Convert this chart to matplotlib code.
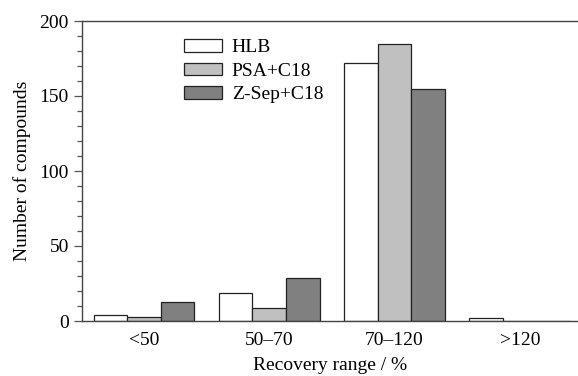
import matplotlib.pyplot as plt
from matplotlib.ticker import MultipleLocator
import numpy as np

plt.rcParams['font.family'] = ['Liberation Serif', 'DejaVu Serif']

# data
categories = ['<50', '50\u201370', '70\u2013120', '>120']
hlb = [4, 19, 172, 2]
psa_c18 = [3, 9, 185, 0]
zsep_c18 = [13, 29, 155, 0]
series_names = ['HLB', 'PSA+C18', 'Z-Sep+C18']

fig = plt.figure(figsize=(5.78, 3.76), dpi=100)
ax = fig.add_axes([82 / 578, 1 - 321 / 376, 1 - 82 / 578, 300 / 376])

x = np.arange(len(categories))
w = 0.268
colors = ['white', '#c0c0c0', '#808080']
for i, (vals, name) in enumerate(zip([hlb, psa_c18, zsep_c18], series_names)):
    ax.bar(x + (i - 1) * w, vals, w, color=colors[i], edgecolor='#222222',
           linewidth=0.9, label=name)

ax.set_xlim(-0.495, 3.465)
ax.set_ylim(0, 200)
ax.set_xticks(x)
ax.set_xticklabels(categories, fontsize=14)
ax.yaxis.set_major_locator(MultipleLocator(50))
ax.yaxis.set_minor_locator(MultipleLocator(10))
ax.tick_params(axis='y', which='major', length=6, width=0.9, color='#555555',
               labelsize=14, direction='out')
ax.tick_params(axis='y', which='minor', length=3.5, width=0.9, color='#555555',
               direction='out')
ax.tick_params(axis='x', length=0, pad=8)

ax.spines['right'].set_visible(False)
for s in ['left', 'bottom', 'top']:
    ax.spines[s].set_color('#444444')
    ax.spines[s].set_linewidth(1.0)

ax.set_xlabel('Recovery range / %', fontsize=14, labelpad=6)
ax.set_ylabel('Number of compounds', fontsize=14, labelpad=6)

ax.legend(loc='upper left', bbox_to_anchor=(184 / 578, 1 - 39 / 376),
          bbox_transform=fig.transFigure, frameon=False, fontsize=14,
          handlelength=1.95, handleheight=0.62, handletextpad=0.5,
          labelspacing=0.33, borderpad=0, borderaxespad=0)

fig.savefig('out.png', dpi=100)
